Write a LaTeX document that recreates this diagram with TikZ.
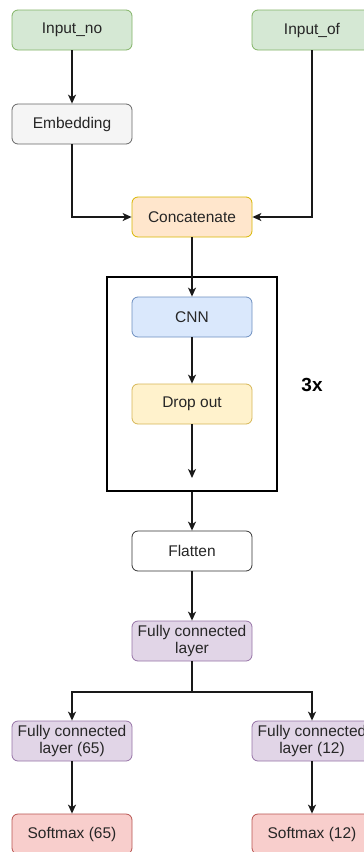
\documentclass[tikz,border=0pt]{standalone}
\usepackage{fontspec}
\setmainfont{Liberation Sans}
\usetikzlibrary{arrows.meta}

\definecolor{greenfill}{HTML}{D5E8D4}\definecolor{greenline}{HTML}{82B366}
\definecolor{greyfill}{HTML}{F5F5F5}\definecolor{greyline}{HTML}{666666}
\definecolor{orangefill}{HTML}{FFE6CC}\definecolor{orangeline}{HTML}{D7B600}
\definecolor{bluefill}{HTML}{DAE8FC}\definecolor{blueline}{HTML}{6C8EBF}
\definecolor{yellowfill}{HTML}{FFF2CC}\definecolor{yellowline}{HTML}{D6B656}
\definecolor{purplefill}{HTML}{E1D5E7}\definecolor{purpleline}{HTML}{9673A6}
\definecolor{redfill}{HTML}{F8CECC}\definecolor{redline}{HTML}{B85450}

\tikzset{
  layer/.style={rounded corners=6pt, minimum width=120pt, minimum height=40pt,
    inner sep=1pt, align=center, line width=0.8pt, text=black!85,
    font=\fontsize{15.5}{17}\selectfont},
  greenbox/.style={layer, fill=greenfill, draw=greenline},
  greybox/.style={layer, fill=greyfill, draw=greyline},
  orangebox/.style={layer, fill=orangefill, draw=orangeline},
  bluebox/.style={layer, fill=bluefill, draw=blueline},
  yellowbox/.style={layer, fill=yellowfill, draw=yellowline},
  purplebox/.style={layer, fill=purplefill, draw=purpleline},
  redbox/.style={layer, fill=redfill, draw=redline},
  whitebox/.style={layer, fill=white, draw=black!80},
  loopframe/.style={draw=black, line width=2.6pt, minimum width=170pt, minimum height=214pt, inner sep=0pt},
  flow/.style={line width=1.3pt, draw=black!90, -{Stealth[length=9pt,width=8pt,inset=2.5pt]}},
  plain/.style={line width=1.3pt, draw=black!90}
}

\begin{document}
\begin{tikzpicture}[x=1pt, y=-1pt]
  \useasboundingbox (0,0) rectangle (364,852);

  % repeated block frame
  \node[loopframe] (loop) at (192,384) {};

  % inputs
  \node[greenbox] (inno) at (72,30) {Input\_no};
  \node[greenbox] (inof) at (312,30) {Input\_of};
  \node[greybox] (emb) at (72,124) {Embedding};
  \node[orangebox] (cat) at (192,217) {Concatenate};

  % convolution block
  \node[bluebox] (cnn) at (192,317) {CNN};
  \node[yellowbox] (drop) at (192,404) {Drop out};
  \coordinate (dropend) at (192,478);
  \node[font=\fontsize{19}{21}\selectfont\bfseries] (rep) at (312,385) {3x};

  % head
  \node[whitebox] (flat) at (192,551) {Flatten};
  \node[purplebox] (fc) at (192,641) {Fully connected\\layer};
  \coordinate (split) at (192,692);
  \node[purplebox] (fc65) at (72,741) {Fully connected\\layer (65)};
  \node[purplebox] (fc12) at (312,741) {Fully connected\\layer (12)};
  \node[redbox] (sm65) at (72,834) {Softmax (65)};
  \node[redbox] (sm12) at (312,834) {Softmax (12)};

  % connectors
  \draw[flow] (inno) -- (emb);
  \draw[flow] (emb.south) |- (cat.west);
  \draw[flow] (inof.south) |- (cat.east);
  \draw[flow] (cat) -- (cnn);
  \draw[flow] (cnn) -- (drop);
  \draw[flow] (drop) -- (dropend);
  \draw[flow] (loop.south) -- (flat);
  \draw[flow] (flat) -- (fc);
  \draw[plain] (fc.south) -- (split);
  \draw[flow] (split) -| (fc65.north);
  \draw[flow] (split) -| (fc12.north);
  \draw[flow] (fc65) -- (sm65);
  \draw[flow] (fc12) -- (sm12);
\end{tikzpicture}
\end{document}
